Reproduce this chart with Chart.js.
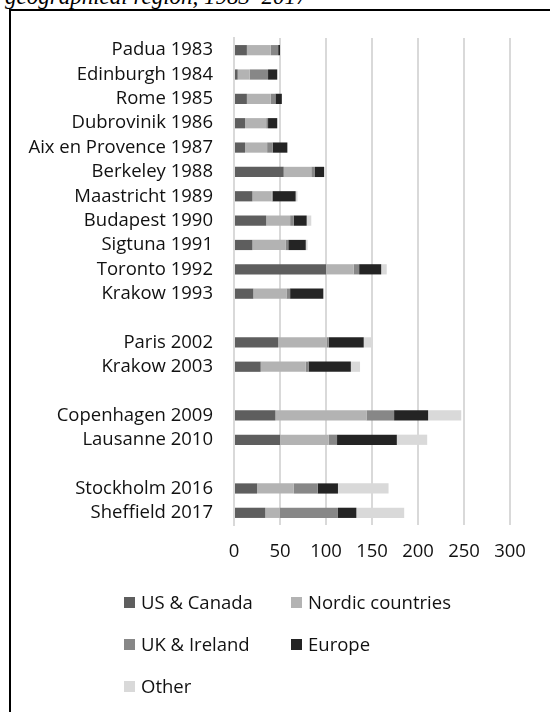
<!DOCTYPE html>
<html>
<head>
<meta charset="utf-8">
<script src="https://cdn.jsdelivr.net/npm/chart.js@4/dist/chart.umd.min.js"></script>
<style>
  html, body { margin: 0; padding: 0; background: #fff; }
  body { width: 550px; height: 712px; position: relative; overflow: hidden; }
  #title { position: absolute; left: 5px; top: -15px; font: italic 23px "Liberation Serif", serif; color: #000; white-space: nowrap; line-height: 23px; }
  #frame { position: absolute; left: 9px; top: 9px; width: 560px; height: 720px; border-left: 2px solid #000; border-top: 2px solid #000; pointer-events: none; }
  #wrap { position: absolute; left: 0; top: 0; width: 550px; height: 712px; }
  #legend { position: absolute; left: 124px; top: 590px; font: 18.5px "Open Sans", sans-serif; color: #111; }
  .item { position: absolute; white-space: nowrap; line-height: 24px; }
  .item i { position: absolute; left: 0; top: 7px; width: 11px; height: 11px; }
  .item span { position: absolute; left: 17px; top: 0; }
</style>
</head>
<body>
<div id="title">geographical region, 1983–2017</div>
<div id="wrap"><canvas id="chart" width="550" height="712"></canvas></div>
<div id="frame"></div>
<div id="legend"></div>
<script>
// conferences, blank rows separate the three periods
const categories = ['Padua 1983', 'Edinburgh 1984', 'Rome 1985', 'Dubrovinik 1986', 'Aix en Provence 1987',
  'Berkeley 1988', 'Maastricht 1989', 'Budapest 1990', 'Sigtuna 1991', 'Toronto 1992', 'Krakow 1993', '',
  'Paris 2002', 'Krakow 2003', '', 'Copenhagen 2009', 'Lausanne 2010', '', 'Stockholm 2016', 'Sheffield 2017'];

const usCanada  = [14, 4, 14, 12, 12, 54, 20, 35, 20, 100, 21, null, 48, 29, null, 45, 50, null, 25, 34];
const nordic    = [26, 13, 26, 23, 24, 30, 21, 26, 36, 30, 36, null, 53, 49, null, 99, 53, null, 40, 16];
const ukIreland = [8, 20, 5, 2, 6, 4, 1, 4, 3, 6, 4, null, 2, 3, null, 30, 9, null, 26, 63];
const europe    = [2, 10, 7, 10, 16, 10, 25, 14, 19, 24, 36, null, 38, 46, null, 37, 65, null, 22, 20];
const other     = [0, 0, 0, 0, 0, 0, 2, 5, 2, 6, 1, null, 8, 10, null, 36, 33, null, 55, 52];

const xTicks = [0, 50, 100, 150, 200, 250, 300];

const seriesNames = ['US & Canada', 'Nordic countries', 'UK & Ireland', 'Europe', 'Other'];
const seriesColors = ['#5e5e5e', '#b3b3b3', '#878787', '#242424', '#d9d9d9'];
const seriesData = [usCanada, nordic, ukIreland, europe, other];

const txt = '#111';
const font = { family: '"Open Sans", sans-serif', size: 18.5 };

const chart = new Chart(document.getElementById('chart'), {
  type: 'bar',
  data: {
    labels: categories,
    datasets: seriesNames.map((n, i) => ({
      label: n,
      data: seriesData[i],
      backgroundColor: seriesColors[i],
      borderWidth: 0,
      barPercentage: 0.42,
      categoryPercentage: 1
    }))
  },
  options: {
    indexAxis: 'y',
    responsive: false,
    animation: false,
    layout: { padding: { top: 38, right: 40, bottom: 147, left: 0 } },
    plugins: { legend: { display: false }, tooltip: { enabled: false } },
    scales: {
      x: {
        stacked: true,
        min: 0, max: 300,
        afterBuildTicks: s => { s.ticks = xTicks.map(v => ({ value: v })); },
        afterFit: s => { s.height = 40; },
        grid: { color: '#d9d9d9', lineWidth: 2, drawTicks: false },
        border: { display: false },
        ticks: { color: txt, font: font, padding: 16 }
      },
      y: {
        stacked: true,
        afterFit: s => { s.width = 234; },
        grid: { display: false, drawTicks: false },
        border: { color: '#d9d9d9', width: 2 },
        ticks: { color: txt, font: font, padding: 21, autoSkip: false }
      }
    }
  }
});

// legend in two columns, built from the datasets
const legendPos = [[0, 0], [167, 0], [0, 42], [167, 42], [0, 84]];
const legend = document.getElementById('legend');
chart.data.datasets.forEach((ds, i) => {
  const el = document.createElement('div');
  el.className = 'item';
  el.style.left = legendPos[i][0] + 'px';
  el.style.top = legendPos[i][1] + 'px';
  el.innerHTML = '<i style="background:' + ds.backgroundColor + '"></i><span>' + ds.label + '</span>';
  legend.appendChild(el);
});
</script>
</body>
</html>
